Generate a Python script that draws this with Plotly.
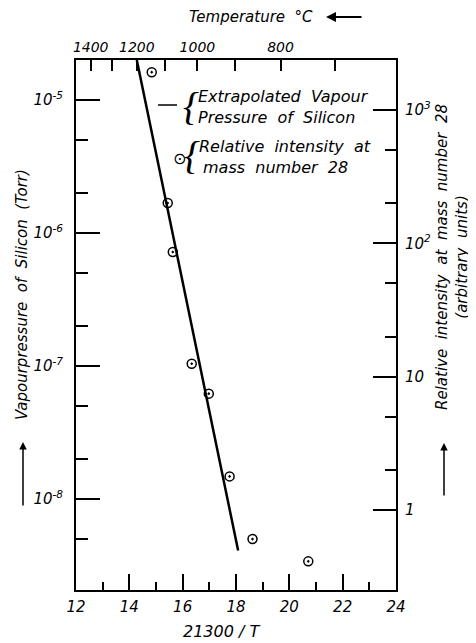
import plotly.graph_objects as go

# ---------------- data ----------------
x_recip = [14.84, 15.44, 15.63, 16.34, 16.98, 17.76, 18.62, 20.71]          # 21300/T
pressure = [1.62e-5, 1.68e-6, 7.2e-7, 1.04e-7, 6.2e-8, 1.48e-8, 5.0e-9, 3.4e-9]  # Torr

line_x = [14.28, 18.08]
line_p = [2.0e-5, 4.1e-9]

x_ticks = [12, 14, 16, 18, 20, 22, 24]
x_minor = [13, 15, 17, 19, 21, 23]

temps_c = [1400, 1300, 1200, 1100, 1000, 900, 800, 700]
temp_labels = ["1400", "", "1200", "", "1000", "", "800", ""]

p_ticks = [1e-8, 1e-7, 1e-6, 1e-5]
p_labels = ["10<sup>-8</sup>", "10<sup>-7</sup>", "10<sup>-6</sup>", "10<sup>-5</sup>"]
p_minor = [5e-9, 2e-8, 5e-8, 2e-7, 5e-7, 2e-6, 5e-6]

i_ticks = [1, 10, 100, 1000]
i_labels = ["1", "10", "10<sup>2</sup>", "10<sup>3</sup>"]
i_minor = [2, 5, 20, 50, 200, 500]

# top axis positions via 21300/T (T in K)
temp_pos = [21300.0 / (t + 273.0) for t in temps_c]

# page offset (body margin) and layout geometry in window pixels
OFF = 8
W, H = 476 - OFF, 643 - OFF
L, R, T, B = 76, 396, 60, 590
FONT = "DejaVu Sans"
TOP_SHIFT = 0.18   # the printed temperature scale sits slightly left of the computed one


def px(xp):
    return (xp - L) / (R - L)


def py(yp):
    return (B - yp) / (B - T)


fig = go.Figure()

fig.add_trace(go.Scatter(
    x=line_x, y=line_p, mode="lines",
    line=dict(color="black", width=2.5), hoverinfo="skip", showlegend=False))

fig.add_trace(go.Scatter(
    x=x_recip, y=pressure, mode="markers",
    marker=dict(symbol="circle-open-dot", size=9, color="black",
                line=dict(width=1.5, color="black")),
    showlegend=False))

# invisible trace to activate the secondary axes
fig.add_trace(go.Scatter(
    x=x_ticks[:1], y=i_ticks[:1], xaxis="x2", yaxis="y2", mode="markers",
    marker=dict(opacity=0), hoverinfo="skip", showlegend=False))

tickfont = dict(family=FONT, size=15, color="black", style="italic")

fig.update_layout(
    width=W, height=H,
    margin=dict(l=L - OFF, r=W - (R - OFF), t=T - OFF, b=H - (B - OFF)),
    paper_bgcolor="white", plot_bgcolor="white",
    font=dict(family=FONT, size=15, color="black", style="italic"),
    xaxis=dict(
        range=[12, 24], tickvals=x_ticks, ticktext=[str(v) for v in x_ticks],
        ticks="inside", ticklen=16, tickwidth=1.5, tickcolor="black",
        minor=dict(tickvals=x_minor, ticks="inside", ticklen=8, tickwidth=1.5, tickcolor="black"),
        showline=True, linecolor="black", linewidth=2, showgrid=False, zeroline=False,
        tickfont=tickfont, ticklabelstandoff=2,
    ),
    xaxis2=dict(
        overlaying="x", side="top", range=[12 + TOP_SHIFT, 24 + TOP_SHIFT],
        tickvals=temp_pos, ticktext=temp_labels,
        ticks="inside", ticklen=11, tickwidth=1.5, tickcolor="black",
        showline=True, linecolor="black", linewidth=2, showgrid=False, zeroline=False,
        tickfont=dict(family=FONT, size=14, color="black", style="italic"),
    ),
    yaxis=dict(
        type="log", range=[-8.684, -4.699],
        tickvals=p_ticks, ticktext=p_labels,
        ticks="inside", ticklen=24, tickwidth=1.5, tickcolor="black",
        minor=dict(tickvals=p_minor, ticks="inside", ticklen=12, tickwidth=1.5, tickcolor="black"),
        showline=True, linecolor="black", linewidth=2, showgrid=False, zeroline=False,
        tickfont=tickfont, ticklabelstandoff=8,
    ),
    yaxis2=dict(
        type="log", overlaying="y", side="right", range=[-0.60, 3.375],
        tickvals=i_ticks, ticktext=i_labels,
        ticks="inside", ticklen=23, tickwidth=1.5, tickcolor="black",
        minor=dict(tickvals=i_minor, ticks="inside", ticklen=11, tickwidth=1.5, tickcolor="black"),
        showline=True, linecolor="black", linewidth=2, showgrid=False, zeroline=False,
        tickfont=tickfont, ticklabelstandoff=4,
    ),
)

ann = []
txt = dict(family=FONT, size=16, color="black", style="italic")
ttl = dict(family=FONT, size=16, color="black", style="italic")
ttl15 = dict(family=FONT, size=15, color="black", style="italic")
brace = dict(family="Liberation Serif", size=40, color="black")

# axis titles
ann.append(dict(x=px(221), y=py(631), xref="paper", yref="paper", text="21300 / T",
                showarrow=False, font=ttl, xanchor="center", yanchor="middle"))
ann.append(dict(x=px(187), y=py(17), xref="paper", yref="paper", text="Temperature  °C",
                showarrow=False, font=ttl15, xanchor="left", yanchor="middle"))
ann.append(dict(x=px(326), y=py(17), xref="paper", yref="paper", text="",
                showarrow=True, arrowhead=2, arrowsize=1, arrowwidth=2, arrowcolor="black",
                ax=37, ay=0))
ann.append(dict(x=px(22), y=py(295), xref="paper", yref="paper",
                text="Vapourpressure  of  Silicon  (Torr)", textangle=-90,
                showarrow=False, font=ttl15, xanchor="center", yanchor="middle"))
ann.append(dict(x=px(23), y=py(442), xref="paper", yref="paper", text="",
                showarrow=True, arrowhead=2, arrowsize=1, arrowwidth=1.5, arrowcolor="black",
                ax=0, ay=65))
ann.append(dict(x=px(452), y=py(257), xref="paper", yref="paper",
                text="Relative  intensity  at  mass  number  28<br>(arbitrary  units)", textangle=-90,
                showarrow=False, font=ttl15, xanchor="center", yanchor="middle"))
ann.append(dict(x=px(444), y=py(443), xref="paper", yref="paper", text="",
                showarrow=True, arrowhead=2, arrowsize=1, arrowwidth=1.5, arrowcolor="black",
                ax=0, ay=54))

# legend inside plot
ann.append(dict(x=px(191), y=py(106), xref="paper", yref="paper", text="{",
                showarrow=False, font=brace, xanchor="center", yanchor="middle"))
ann.append(dict(x=px(196), y=py(96), xref="paper", yref="paper", text="Extrapolated  Vapour",
                showarrow=False, font=txt, xanchor="left", yanchor="middle"))
ann.append(dict(x=px(196), y=py(118), xref="paper", yref="paper", text="Pressure  of  Silicon",
                showarrow=False, font=txt, xanchor="left", yanchor="middle"))
ann.append(dict(x=px(192), y=py(156), xref="paper", yref="paper", text="{",
                showarrow=False, font=brace, xanchor="center", yanchor="middle"))
ann.append(dict(x=px(197), y=py(146), xref="paper", yref="paper", text="Relative  intensity  at",
                showarrow=False, font=txt, xanchor="left", yanchor="middle"))
ann.append(dict(x=px(201), y=py(168), xref="paper", yref="paper", text="mass  number  28",
                showarrow=False, font=txt, xanchor="left", yanchor="middle"))
ann.append(dict(x=px(179), y=py(159), xref="paper", yref="paper", text="⊙",
                showarrow=False, font=dict(family=FONT, size=16, color="black"),
                xanchor="center", yanchor="middle"))

fig.update_layout(annotations=ann)

fig.add_shape(type="line", xref="paper", yref="paper",
              x0=px(158), x1=px(177), y0=py(105), y1=py(105),
              line=dict(color="black", width=1.5))

fig.write_html("out.html")
